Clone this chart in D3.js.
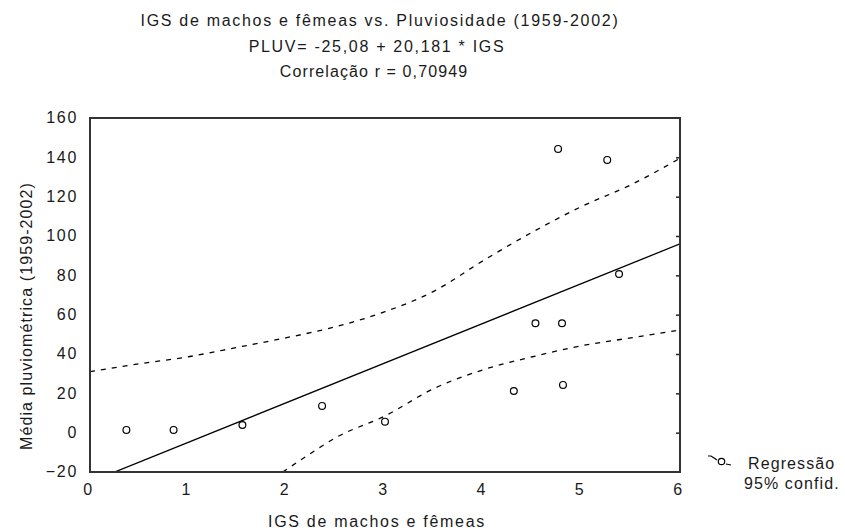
<!DOCTYPE html>
<html>
<head>
<meta charset="utf-8">
<script src="https://cdn.jsdelivr.net/npm/d3@7/dist/d3.min.js"></script>
<style>
  html, body { margin: 0; padding: 0; background: #fff; }
  svg text { font-family: "Liberation Sans", Arial, sans-serif; fill: #1a1a1a; font-size: 16px; letter-spacing: 1.7px; }
</style>
</head>
<body>
<svg id="chart" width="845" height="532"></svg>
<script>
// Gonad index (IGS) against mean rainfall, 1959-2002
const igs      = [0.37, 0.85, 1.55, 2.36, 3.00, 4.31, 4.53, 4.80, 4.81, 4.76, 5.26, 5.38];
const rainfall = [1.4, 1.4, 3.9, 13.6, 5.6, 21.2, 55.6, 55.6, 24.3, 144.3, 138.7, 80.7];

// fitted line PLUV = a + b * IGS
const intercept = -25.08;
const slope = 20.181;

// 95% confidence band, read at these IGS values
const bandUpperX = [0, 0.5, 1, 1.5, 2, 2.5, 3, 3.5, 4, 4.5, 5, 5.5, 6];
const bandUpperY = [31, 35, 38.6, 43.4, 48.3, 53.9, 61.5, 72, 87.5, 102, 115, 126, 139.5];
const bandLowerX = [1.96, 2.2, 2.5, 3, 3.5, 4, 4.5, 5, 5.5, 6];
const bandLowerY = [-20, -12, -2.5, 8.5, 22.5, 32, 38.6, 44.2, 48.2, 52.2];

const xTicks = [0, 1, 2, 3, 4, 5, 6];
const yTicks = [-20, 0, 20, 40, 60, 80, 100, 120, 140, 160];

const titleLines = [
  "IGS de machos e fêmeas vs. Pluviosidade (1959-2002)",
  "PLUV= -25,08 + 20,181 * IGS",
  "Correlação r = 0,70949"
];
const xTitle = "IGS de machos e fêmeas";
const yTitle = "Média pluviométrica (1959-2002)";
const legendLabels = ["Regressão", "95% confid."];

const svg = d3.select("#chart");
const plot = { left: 90, right: 680, top: 118, bottom: 472 };

const x = d3.scaleLinear().domain([0, 6]).range([plot.left, plot.right]);
const y = d3.scaleLinear().domain([-20, 160]).range([plot.bottom, plot.top]);

// clip region for the lines
svg.append("defs").append("clipPath").attr("id", "plotClip")
  .append("rect")
  .attr("x", plot.left).attr("y", plot.top)
  .attr("width", plot.right - plot.left).attr("height", plot.bottom - plot.top);

// titles
const titleX = [380, 377, 374];
const titleSpacing = [1.7, 1.7, 1.1];
svg.append("g").selectAll("text").data(titleLines).join("text")
  .attr("x", (d, i) => titleX[i]).attr("y", (d, i) => 26 + i * 25.5)
  .attr("text-anchor", "middle")
  .style("letter-spacing", (d, i) => titleSpacing[i] + "px")
  .text(d => d);

// x axis labels (no tick marks along the bottom)
const xAxis = d3.axisBottom(x).tickValues(xTicks).tickSize(0).tickPadding(12)
  .tickFormat(d3.format("d"));
const gx = svg.append("g").attr("transform", `translate(0,${plot.bottom})`).call(xAxis);
gx.select(".domain").remove();
gx.attr("font-size", null).attr("font-family", null);
gx.selectAll("text").attr("dx", -2);

// y axis labels on the left
const yAxis = d3.axisLeft(y).tickValues(yTicks).tickSize(0).tickPadding(12)
  .tickFormat(d3.format("d"));
const gy = svg.append("g").attr("transform", `translate(${plot.left},0)`).call(yAxis);
gy.select(".domain").remove();
gy.attr("font-size", null).attr("font-family", null);
gy.selectAll("text").attr("dy", "0.3em");

// small inner ticks on the right edge
const yAxisR = d3.axisLeft(y).tickValues(yTicks.slice(1, -1)).tickSize(4).tickFormat("");
const gr = svg.append("g").attr("transform", `translate(${plot.right},0)`).call(yAxisR);
gr.select(".domain").remove();
gr.selectAll("line").attr("stroke", "#222").attr("stroke-width", 1.5);

// axis titles
svg.append("text")
  .attr("x", 377).attr("y", 527)
  .attr("text-anchor", "middle")
  .text(xTitle);
svg.append("text")
  .attr("transform", "translate(32,316) rotate(-90)")
  .attr("text-anchor", "middle")
  .style("letter-spacing", "1.1px")
  .text(yTitle);

const lines = svg.append("g").attr("clip-path", "url(#plotClip)");

// regression line
const fitLine = d3.line().x(d => x(d)).y(d => y(intercept + slope * d));
lines.append("path")
  .datum([0, 6])
  .attr("d", fitLine)
  .attr("fill", "none").attr("stroke", "#000").attr("stroke-width", 1.3);

// confidence band
const bandLine = d3.line().curve(d3.curveMonotoneX).x(d => x(d[0])).y(d => y(d[1]));
lines.append("path")
  .datum(d3.zip(bandUpperX, bandUpperY))
  .attr("d", bandLine)
  .attr("fill", "none").attr("stroke", "#000").attr("stroke-width", 1.3)
  .attr("stroke-dasharray", "5,6");
lines.append("path")
  .datum(d3.zip(bandLowerX, bandLowerY))
  .attr("d", bandLine)
  .attr("fill", "none").attr("stroke", "#000").attr("stroke-width", 1.3)
  .attr("stroke-dasharray", "5,6");

// observations
svg.append("g").selectAll("circle").data(d3.zip(igs, rainfall)).join("circle")
  .attr("cx", d => x(d[0])).attr("cy", d => y(d[1]))
  .attr("r", 3.4)
  .attr("fill", "none").attr("stroke", "#000").attr("stroke-width", 1.2);

// frame
svg.append("rect")
  .attr("x", plot.left).attr("y", plot.top)
  .attr("width", plot.right - plot.left).attr("height", plot.bottom - plot.top)
  .attr("fill", "none").attr("stroke", "#333").attr("stroke-width", 2);

// legend
const lg = svg.append("g");
lg.append("path")
  .attr("d", "M708,456 L711,456 L714,458 L717,460")
  .attr("fill", "none").attr("stroke", "#000").attr("stroke-width", 1.2);
lg.append("circle").attr("cx", 721.5).attr("cy", 461.5).attr("r", 3.2)
  .attr("fill", "none").attr("stroke", "#000").attr("stroke-width", 1.2);
lg.append("path")
  .attr("d", "M726,464 L731,465")
  .attr("fill", "none").attr("stroke", "#000").attr("stroke-width", 1.2);
lg.selectAll("text").data(legendLabels).join("text")
  .attr("x", (d, i) => i === 0 ? 748 : 744)
  .attr("y", (d, i) => 469 + i * 20)
  .style("letter-spacing", "1.1px")
  .text(d => d);
</script>
</body>
</html>
